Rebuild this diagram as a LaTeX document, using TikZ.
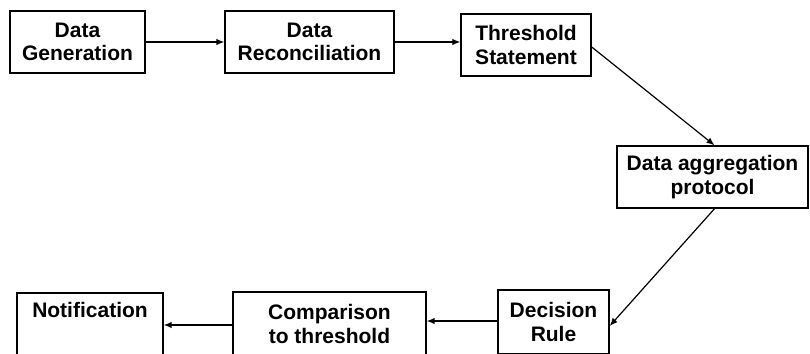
\documentclass[tikz,border=0pt]{standalone}
\usepackage{fontspec}
\setmainfont{Liberation Sans}
\usetikzlibrary{arrows.meta}
\begin{document}
\begin{tikzpicture}[x=1pt,y=-1pt,
  stage/.style={draw, line width=1.4pt, minimum height=62pt, inner sep=0pt,
    align=center, font=\fontsize{21}{23.5}\selectfont\bfseries},
  flow/.style={line width=1.2pt, -{Latex[length=8pt,width=6.5pt]}}]
  \useasboundingbox (0,0) rectangle (810,353);
  \clip (0,0) rectangle (810,353);
  % top row
  \node[stage, minimum width=135pt] (gen) at (77.5,42) {Data\\Generation};
  \node[stage, minimum width=169pt] (rec) at (309.5,42) {Data\\Reconciliation};
  \node[stage, minimum width=130pt] (thr) at (526,45) {Threshold\\Statement};
  % right column
  \node[stage, minimum width=191pt] (agg) at (712.5,177) {Data aggregation\\protocol};
  % bottom row
  \node[stage, minimum width=111pt, minimum height=64pt] (dec) at (553.5,322) {Decision\\Rule};
  \node[stage, minimum width=193pt, minimum height=64pt] (cmp) at (329.5,324) {Comparison\\to threshold};
  \node[stage, minimum width=146pt, minimum height=64pt] (note) at (90,325) {Notification\\\strut};
  % connectors
  \draw[flow] (gen.east) -- (rec.west);
  \draw[flow] (rec.east) -- (rec.east -| thr.west);
  \draw[flow] ([yshift=-2pt]thr.east) -- ([xshift=2pt]agg.north);
  \draw[flow] ([xshift=2pt]agg.south) -- ([yshift=-4pt]dec.east);
  \draw[flow] ([yshift=1pt]dec.west) -- ([yshift=1pt]dec.west -| cmp.east);
  \draw[flow] ([yshift=-1pt]cmp.west) -- ([yshift=-1pt]cmp.west -| note.east);
\end{tikzpicture}
\end{document}
